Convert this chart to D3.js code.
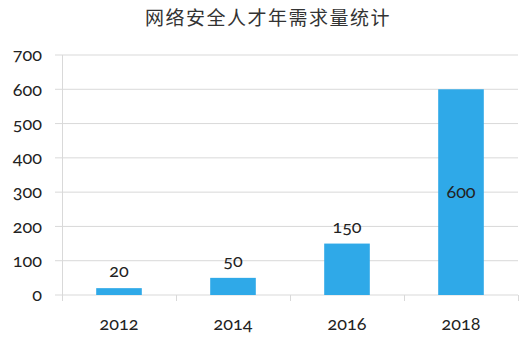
<!DOCTYPE html>
<html>
<head>
<meta charset="utf-8">
<script src="https://cdn.jsdelivr.net/npm/d3@7"></script>
<style>
  body { margin: 0; background: #fff; }
  svg text { font-family: Lato, "Open Sans", sans-serif; font-variant-numeric: oldstyle-nums; }
</style>
</head>
<body>
<div id="chart"></div>
<script>
const WIDTH = 524;
const HEIGHT = 343;

const title = '网络安全人才年需求量统计';
const years = ['2012', '2014', '2016', '2018'];
const demand = [20, 50, 150, 600];
const yTicks = [0, 100, 200, 300, 400, 500, 600, 700];

const margin = { top: 55, right: 6, bottom: 48, left: 62 };

const svg = d3.select('#chart')
    .append('svg')
    .attr('width', WIDTH)
    .attr('height', HEIGHT);

// Scales
const xScale = d3.scaleBand()
    .domain(years)
    .range([margin.left, WIDTH - margin.right])
    .paddingInner(0.6)
    .paddingOuter(0.3);

const yScale = d3.scaleLinear()
    .domain([0, 700])
    .range([HEIGHT - margin.bottom, margin.top]);

// Title
svg.append('text')
    .attr('x', 268)
    .attr('y', 25)
    .attr('text-anchor', 'middle')
    .style('font-family', '"Noto Sans CJK SC", sans-serif')
    .style('font-size', '19px')
    .style('letter-spacing', '1.5px')
    .attr('fill', '#333')
    .text(title);

// Grid lines
svg.selectAll('line.grid')
    .data(yTicks)
    .enter()
    .append('line')
    .attr('class', 'grid')
    .attr('x1', 55)
    .attr('x2', WIDTH - margin.right)
    .attr('y1', d => yScale(d))
    .attr('y2', d => yScale(d))
    .attr('stroke', '#d9d9d9')
    .attr('stroke-width', 1);

// Y labels
svg.selectAll('text.ylab')
    .data(yTicks)
    .enter()
    .append('text')
    .attr('class', 'ylab')
    .attr('x', 42)
    .attr('y', d => yScale(d))
    .attr('dy', '0.35em')
    .attr('text-anchor', 'end')
    .style('font-size', '18px')
    .attr('fill', '#222')
    .text(d => d);

// Left vertical axis line
svg.append('line')
    .attr('x1', margin.left + 0.5)
    .attr('x2', margin.left + 0.5)
    .attr('y1', yScale(700))
    .attr('y2', yScale(0) + 6)
    .attr('stroke', '#d9d9d9');

// Category boundary ticks
const step = xScale.step();
const bounds = d3.range(years.length + 1).map(i => margin.left + i * step);
svg.selectAll('line.xtick')
    .data(bounds)
    .enter()
    .append('line')
    .attr('class', 'xtick')
    .attr('x1', d => d + 0.5)
    .attr('x2', d => d + 0.5)
    .attr('y1', yScale(0))
    .attr('y2', yScale(0) + 6)
    .attr('stroke', '#d9d9d9');

// Bars
svg.selectAll('rect')
    .data(demand)
    .enter()
    .append('rect')
    .attr('x', (d, i) => xScale(years[i]))
    .attr('y', d => yScale(d))
    .attr('width', xScale.bandwidth())
    .attr('height', d => yScale(0) - yScale(d))
    .attr('fill', '#2fa9e8');

// X labels
svg.selectAll('text.xlab')
    .data(years)
    .enter()
    .append('text')
    .attr('class', 'xlab')
    .attr('x', d => xScale(d) + xScale.bandwidth() / 2)
    .attr('y', 330)
    .attr('text-anchor', 'middle')
    .style('font-size', '18px')
    .attr('fill', '#222')
    .text(d => d);

// Value labels
svg.selectAll('text.vlab')
    .data(demand)
    .enter()
    .append('text')
    .attr('class', 'vlab')
    .attr('x', (d, i) => xScale(years[i]) + xScale.bandwidth() / 2)
    .attr('y', d => d > 400 ? (yScale(d) + yScale(0)) / 2 + 6 : yScale(d) - 11)
    .attr('text-anchor', 'middle')
    .style('font-size', '18px')
    .attr('fill', '#222')
    .text(d => d);
</script>
</body>
</html>
